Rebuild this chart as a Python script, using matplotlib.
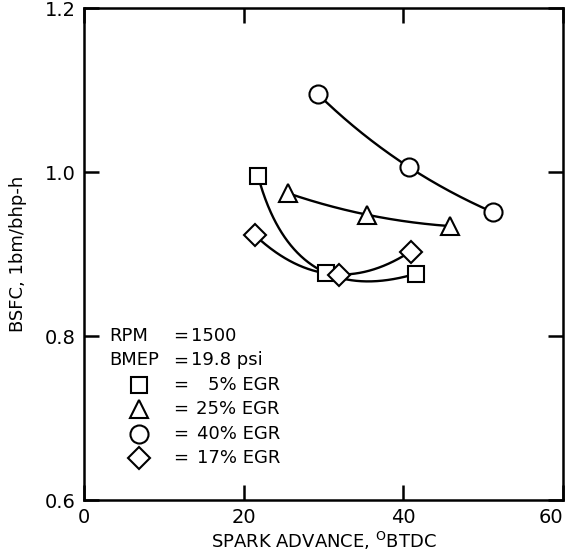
import numpy as np
import matplotlib
matplotlib.use("Agg")
import matplotlib.pyplot as plt

# Data
sq_x = [21.8, 30.3, 41.6]
sq_y = [0.995, 0.877, 0.876]
tri_x = [25.6, 35.4, 45.9]
tri_y = [0.974, 0.948, 0.934]
cir_x = [29.3, 40.7, 51.2]
cir_y = [1.095, 1.006, 0.951]
dia_x = [21.4, 31.9, 40.9]
dia_y = [0.923, 0.875, 0.903]

series = [
    (sq_x, sq_y, 's', 11.5, "5% EGR"),
    (tri_x, tri_y, '^', 13, "25% EGR"),
    (cir_x, cir_y, 'o', 13, "40% EGR"),
    (dia_x, dia_y, 'D', 11, "17% EGR"),
]

xticks = [0, 20, 40, 60]
yticks = [0.6, 0.8, 1.0, 1.2]
xtick_labels = ["0", "20", "40", "60"]
ytick_labels = ["0.6", "0.8", "1.0", "1.2"]


def smooth_curve(x, y, n=200):
    """Parametric quadratic through the points (chord-length parameter)."""
    x = np.asarray(x, float)
    y = np.asarray(y, float)
    xn, yn = x / 60.0, y / 0.6
    d = np.hypot(np.diff(xn), np.diff(yn))
    t = np.concatenate([[0], np.cumsum(d)])
    t = t / t[-1]
    cx = np.polyfit(t, x, 2)
    cy = np.polyfit(t, y, 2)
    ts = np.linspace(0, 1, n)
    return np.polyval(cx, ts), np.polyval(cy, ts)


plt.rcParams['font.family'] = ['DejaVu Sans']
fig = plt.figure(figsize=(5.68, 5.6), dpi=100)
ax = fig.add_axes([84/568, 1-500/560, 479/568, 492/560])

lw = 1.7
for x, y, m, ms, lab in series:
    xs, ys = smooth_curve(x, y)
    ax.plot(xs, ys, color='black', lw=lw, zorder=2)
    ax.plot(x, y, linestyle='none', marker=m, ms=ms, mfc='white',
            mec='black', mew=1.5, zorder=3)

ax.set_xlim(0, 60)
ax.set_ylim(0.6, 1.2)
ax.set_xticks(xticks)
ax.set_xticklabels(xtick_labels)
ax.set_yticks(yticks)
ax.set_yticklabels(ytick_labels)
ax.tick_params(direction='in', length=11, width=1.8, top=True, right=True,
               labelsize=14, pad=6)
ax.get_xticklabels()[-1].set_horizontalalignment('right')
for s in ax.spines.values():
    s.set_linewidth(1.8)

ax.set_xlabel(r"SPARK ADVANCE, $^{\mathrm{O}}$BTDC", fontsize=13, labelpad=2)
ax.set_ylabel("BSFC, 1bm/bhp-h", fontsize=13)
ax.yaxis.set_label_coords(-0.119, 0.5)

# Annotation block
fs = 13
rows_y = [0.333, 0.284, 0.234, 0.185, 0.135, 0.085]
ax.text(0.052, rows_y[0], "RPM", transform=ax.transAxes, fontsize=fs, va='center')
ax.text(0.186, rows_y[0], "=", transform=ax.transAxes, fontsize=fs, va='center')
ax.text(0.223, rows_y[0], "1500", transform=ax.transAxes, fontsize=fs, va='center')
ax.text(0.052, rows_y[1], "BMEP", transform=ax.transAxes, fontsize=fs, va='center')
ax.text(0.186, rows_y[1], "=", transform=ax.transAxes, fontsize=fs, va='center')
ax.text(0.223, rows_y[1], "19.8 psi", transform=ax.transAxes, fontsize=fs, va='center')
for (x, y, m, ms, lab), ry in zip(series, rows_y[2:]):
    ax.plot([0.115], [ry], transform=ax.transAxes, linestyle='none', marker=m,
            ms=ms, mfc='white', mec='black', mew=1.5, clip_on=False)
    ax.text(0.186, ry, "=", transform=ax.transAxes, fontsize=fs, va='center')
    ax.text(0.409, ry, lab, transform=ax.transAxes, fontsize=fs, va='center', ha='right')

fig.savefig("out.png", dpi=100)
